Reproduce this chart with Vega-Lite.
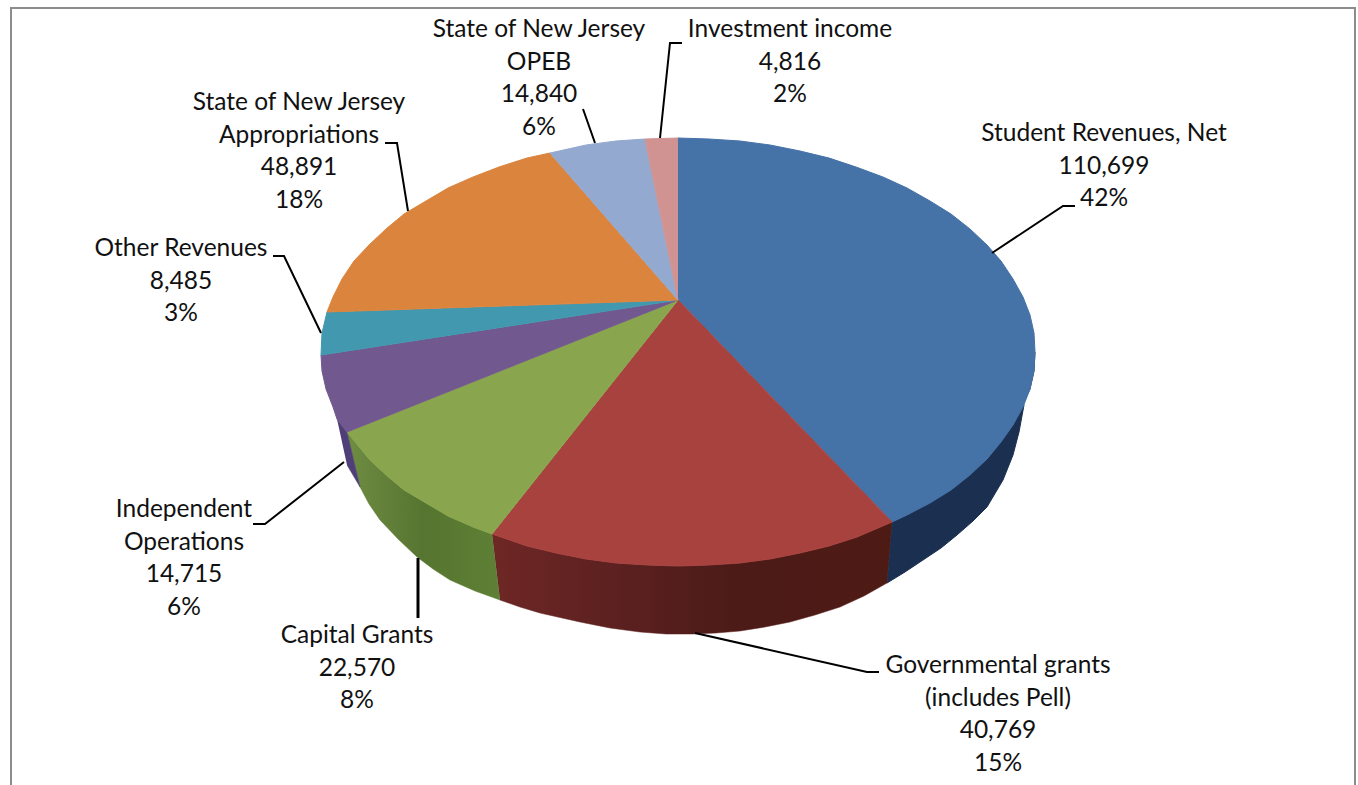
{"$schema":"https://vega.github.io/schema/vega-lite/v6.json","width":1358,"height":785,"padding":0,"autosize":{"type":"none"},"background":"white","config":{"view":{"stroke":null}},
"datasets":{
"tops":[
{"slice":"Student Revenues, Net","i":0,"x":678,"y":300},{"slice":"Student Revenues, Net","i":1,"x":678,"y":138},{"slice":"Student Revenues, Net","i":2,"x":709,"y":139},{"slice":"Student Revenues, Net","i":3,"x":740,"y":141},{"slice":"Student Revenues, Net","i":4,"x":770,"y":145},{"slice":"Student Revenues, Net","i":5,"x":800,"y":151},{"slice":"Student Revenues, Net","i":6,"x":829,"y":158},{"slice":"Student Revenues, Net","i":7,"x":856,"y":167},{"slice":"Student Revenues, Net","i":8,"x":883,"y":177},{"slice":"Student Revenues, Net","i":9,"x":907,"y":188},{"slice":"Student Revenues, Net","i":10,"x":930,"y":201},{"slice":"Student Revenues, Net","i":11,"x":951,"y":214},{"slice":"Student Revenues, Net","i":12,"x":970,"y":229},{"slice":"Student Revenues, Net","i":13,"x":987,"y":245},{"slice":"Student Revenues, Net","i":14,"x":1001,"y":261},{"slice":"Student Revenues, Net","i":15,"x":1013,"y":279},{"slice":"Student Revenues, Net","i":16,"x":1023,"y":297},{"slice":"Student Revenues, Net","i":17,"x":1030,"y":315},{"slice":"Student Revenues, Net","i":18,"x":1034,"y":333},{"slice":"Student Revenues, Net","i":19,"x":1035,"y":352},{"slice":"Student Revenues, Net","i":20,"x":1034,"y":371},{"slice":"Student Revenues, Net","i":21,"x":1030,"y":389},{"slice":"Student Revenues, Net","i":22,"x":1023,"y":407},{"slice":"Student Revenues, Net","i":23,"x":1013,"y":425},{"slice":"Student Revenues, Net","i":24,"x":1001,"y":442},{"slice":"Student Revenues, Net","i":25,"x":987,"y":459},{"slice":"Student Revenues, Net","i":26,"x":970,"y":475},{"slice":"Student Revenues, Net","i":27,"x":951,"y":490},{"slice":"Student Revenues, Net","i":28,"x":930,"y":503},{"slice":"Student Revenues, Net","i":29,"x":907,"y":515},{"slice":"Student Revenues, Net","i":30,"x":892,"y":522},
{"slice":"Governmental grants","i":0,"x":678,"y":300},{"slice":"Governmental grants","i":1,"x":892,"y":522},{"slice":"Governmental grants","i":2,"x":857,"y":537},{"slice":"Governmental grants","i":3,"x":829,"y":546},{"slice":"Governmental grants","i":4,"x":800,"y":553},{"slice":"Governmental grants","i":5,"x":770,"y":559},{"slice":"Governmental grants","i":6,"x":740,"y":563},{"slice":"Governmental grants","i":7,"x":709,"y":565},{"slice":"Governmental grants","i":8,"x":678,"y":566},{"slice":"Governmental grants","i":9,"x":647,"y":565},{"slice":"Governmental grants","i":10,"x":616,"y":563},{"slice":"Governmental grants","i":11,"x":586,"y":559},{"slice":"Governmental grants","i":12,"x":556,"y":553},{"slice":"Governmental grants","i":13,"x":527,"y":546},{"slice":"Governmental grants","i":14,"x":492,"y":534},
{"slice":"Capital Grants","i":0,"x":678,"y":300},{"slice":"Capital Grants","i":1,"x":492,"y":534},{"slice":"Capital Grants","i":2,"x":473,"y":527},{"slice":"Capital Grants","i":3,"x":448,"y":516},{"slice":"Capital Grants","i":4,"x":426,"y":503},{"slice":"Capital Grants","i":5,"x":404,"y":490},{"slice":"Capital Grants","i":6,"x":386,"y":475},{"slice":"Capital Grants","i":7,"x":369,"y":459},{"slice":"Capital Grants","i":8,"x":347,"y":432},
{"slice":"Independent Operations","i":0,"x":678,"y":300},{"slice":"Independent Operations","i":1,"x":347,"y":432},{"slice":"Independent Operations","i":2,"x":337,"y":419},{"slice":"Independent Operations","i":3,"x":333,"y":407},{"slice":"Independent Operations","i":4,"x":326,"y":389},{"slice":"Independent Operations","i":5,"x":322,"y":371},{"slice":"Independent Operations","i":6,"x":321,"y":355},
{"slice":"Other Revenues","i":0,"x":678,"y":300},{"slice":"Other Revenues","i":1,"x":321,"y":355},{"slice":"Other Revenues","i":2,"x":322,"y":333},{"slice":"Other Revenues","i":3,"x":327,"y":312},
{"slice":"State of New Jersey Appropriations","i":0,"x":678,"y":300},{"slice":"State of New Jersey Appropriations","i":1,"x":327,"y":312},{"slice":"State of New Jersey Appropriations","i":2,"x":333,"y":297},{"slice":"State of New Jersey Appropriations","i":3,"x":342,"y":279},{"slice":"State of New Jersey Appropriations","i":4,"x":354,"y":261},{"slice":"State of New Jersey Appropriations","i":5,"x":369,"y":245},{"slice":"State of New Jersey Appropriations","i":6,"x":386,"y":229},{"slice":"State of New Jersey Appropriations","i":7,"x":404,"y":214},{"slice":"State of New Jersey Appropriations","i":8,"x":426,"y":201},{"slice":"State of New Jersey Appropriations","i":9,"x":448,"y":188},{"slice":"State of New Jersey Appropriations","i":10,"x":473,"y":177},{"slice":"State of New Jersey Appropriations","i":11,"x":499,"y":167},{"slice":"State of New Jersey Appropriations","i":12,"x":527,"y":158},{"slice":"State of New Jersey Appropriations","i":13,"x":550,"y":153},
{"slice":"State of New Jersey OPEB","i":0,"x":678,"y":300},{"slice":"State of New Jersey OPEB","i":1,"x":550,"y":153},{"slice":"State of New Jersey OPEB","i":2,"x":586,"y":145},{"slice":"State of New Jersey OPEB","i":3,"x":616,"y":141},{"slice":"State of New Jersey OPEB","i":4,"x":645,"y":139},
{"slice":"Investment income","i":0,"x":678,"y":300},{"slice":"Investment income","i":1,"x":645,"y":139},{"slice":"Investment income","i":2,"x":678,"y":138}
],
"walls":[
{"slice":"Student Revenues, Net","i":0,"x":1035,"y":352},{"slice":"Student Revenues, Net","i":1,"x":1034,"y":371},{"slice":"Student Revenues, Net","i":2,"x":1030,"y":389},{"slice":"Student Revenues, Net","i":3,"x":1013,"y":425},{"slice":"Student Revenues, Net","i":4,"x":987,"y":459},{"slice":"Student Revenues, Net","i":5,"x":951,"y":490},{"slice":"Student Revenues, Net","i":6,"x":907,"y":515},{"slice":"Student Revenues, Net","i":7,"x":892,"y":522},{"slice":"Student Revenues, Net","i":8,"x":887,"y":583},{"slice":"Student Revenues, Net","i":9,"x":905,"y":572},{"slice":"Student Revenues, Net","i":10,"x":923,"y":560},{"slice":"Student Revenues, Net","i":11,"x":941,"y":548},{"slice":"Student Revenues, Net","i":12,"x":957,"y":535},{"slice":"Student Revenues, Net","i":13,"x":973,"y":521},{"slice":"Student Revenues, Net","i":14,"x":987,"y":507},{"slice":"Student Revenues, Net","i":15,"x":1003,"y":480},{"slice":"Student Revenues, Net","i":16,"x":1013,"y":455},{"slice":"Student Revenues, Net","i":17,"x":1019,"y":432},{"slice":"Student Revenues, Net","i":18,"x":1024,"y":405},
{"slice":"Governmental grants","i":0,"x":892,"y":522},{"slice":"Governmental grants","i":1,"x":857,"y":537},{"slice":"Governmental grants","i":2,"x":829,"y":546},{"slice":"Governmental grants","i":3,"x":800,"y":553},{"slice":"Governmental grants","i":4,"x":770,"y":559},{"slice":"Governmental grants","i":5,"x":740,"y":563},{"slice":"Governmental grants","i":6,"x":709,"y":565},{"slice":"Governmental grants","i":7,"x":678,"y":566},{"slice":"Governmental grants","i":8,"x":647,"y":565},{"slice":"Governmental grants","i":9,"x":616,"y":563},{"slice":"Governmental grants","i":10,"x":586,"y":559},{"slice":"Governmental grants","i":11,"x":556,"y":553},{"slice":"Governmental grants","i":12,"x":527,"y":546},{"slice":"Governmental grants","i":13,"x":492,"y":534},{"slice":"Governmental grants","i":14,"x":500,"y":600},{"slice":"Governmental grants","i":15,"x":520,"y":607},{"slice":"Governmental grants","i":16,"x":540,"y":613},{"slice":"Governmental grants","i":17,"x":580,"y":622},{"slice":"Governmental grants","i":18,"x":610,"y":628},{"slice":"Governmental grants","i":19,"x":640,"y":632},{"slice":"Governmental grants","i":20,"x":666,"y":634},{"slice":"Governmental grants","i":21,"x":693,"y":634},{"slice":"Governmental grants","i":22,"x":716,"y":633},{"slice":"Governmental grants","i":23,"x":740,"y":631},{"slice":"Governmental grants","i":24,"x":765,"y":627},{"slice":"Governmental grants","i":25,"x":790,"y":622},{"slice":"Governmental grants","i":26,"x":815,"y":615},{"slice":"Governmental grants","i":27,"x":840,"y":607},{"slice":"Governmental grants","i":28,"x":864,"y":596},{"slice":"Governmental grants","i":29,"x":887,"y":583},
{"slice":"Capital Grants","i":0,"x":492,"y":534},{"slice":"Capital Grants","i":1,"x":473,"y":527},{"slice":"Capital Grants","i":2,"x":448,"y":516},{"slice":"Capital Grants","i":3,"x":426,"y":503},{"slice":"Capital Grants","i":4,"x":404,"y":490},{"slice":"Capital Grants","i":5,"x":386,"y":475},{"slice":"Capital Grants","i":6,"x":369,"y":459},{"slice":"Capital Grants","i":7,"x":347,"y":432},{"slice":"Capital Grants","i":8,"x":360,"y":487},{"slice":"Capital Grants","i":9,"x":369,"y":504},{"slice":"Capital Grants","i":10,"x":380,"y":520},{"slice":"Capital Grants","i":11,"x":398,"y":539},{"slice":"Capital Grants","i":12,"x":417,"y":557},{"slice":"Capital Grants","i":13,"x":433,"y":569},{"slice":"Capital Grants","i":14,"x":450,"y":580},{"slice":"Capital Grants","i":15,"x":475,"y":591},{"slice":"Capital Grants","i":16,"x":500,"y":600},
{"slice":"Independent Operations","i":0,"x":337,"y":419},{"slice":"Independent Operations","i":1,"x":347,"y":432},{"slice":"Independent Operations","i":2,"x":360,"y":487},{"slice":"Independent Operations","i":3,"x":347,"y":465}
],
"leaders":[
{"slice":"Student Revenues, Net","i":0,"x":1075,"y":206},{"slice":"Student Revenues, Net","i":1,"x":1063,"y":206},{"slice":"Student Revenues, Net","i":2,"x":992,"y":253},
{"slice":"Governmental grants","i":0,"x":879,"y":672},{"slice":"Governmental grants","i":1,"x":867,"y":672},{"slice":"Governmental grants","i":2,"x":695,"y":633},
{"slice":"Capital Grants","i":0,"x":418,"y":558},{"slice":"Capital Grants","i":1,"x":418,"y":618},
{"slice":"Independent Operations","i":0,"x":253,"y":524},{"slice":"Independent Operations","i":1,"x":265,"y":524},{"slice":"Independent Operations","i":2,"x":344,"y":462},
{"slice":"Other Revenues","i":0,"x":273,"y":256},{"slice":"Other Revenues","i":1,"x":284,"y":256},{"slice":"Other Revenues","i":2,"x":321,"y":333},
{"slice":"State of New Jersey Appropriations","i":0,"x":385,"y":143},{"slice":"State of New Jersey Appropriations","i":1,"x":397,"y":143},{"slice":"State of New Jersey Appropriations","i":2,"x":408,"y":211},
{"slice":"State of New Jersey OPEB","i":0,"x":583,"y":109},{"slice":"State of New Jersey OPEB","i":1,"x":595,"y":143},
{"slice":"Investment income","i":0,"x":682,"y":43},{"slice":"Investment income","i":1,"x":670,"y":43},{"slice":"Investment income","i":2,"x":660,"y":138}
],
"frame":[{"i":0,"x":11,"y":785},{"i":1,"x":11,"y":8},{"i":2,"x":1355,"y":8},{"i":3,"x":1355,"y":785}],
"labels":[
{"text":"Student Revenues, Net\n110,699\n42%","x":1104,"y":122},
{"text":"Governmental grants\n(includes Pell)\n40,769\n15%","x":998,"y":654},
{"text":"Capital Grants\n22,570\n8%","x":357,"y":624},
{"text":"Independent\nOperations\n14,715\n6%","x":184,"y":498},
{"text":"Other Revenues\n8,485\n3%","x":181,"y":237},
{"text":"State of New Jersey\nAppropriations\n48,891\n18%","x":299,"y":91},
{"text":"State of New Jersey\nOPEB\n14,840\n6%","x":539,"y":18},
{"text":"Investment income\n4,816\n2%","x":790,"y":18}
]},
"encoding":{
"x":{"field":"x","type":"quantitative","axis":null,"scale":{"domain":[0,1358],"nice":false,"zero":false}},
"y":{"field":"y","type":"quantitative","axis":null,"scale":{"domain":[0,785],"reverse":true,"nice":false,"zero":false}}},
"layer":[
{"data":{"name":"frame"},"mark":{"type":"line","stroke":"#8c8c8c","strokeWidth":2,"clip":true},"encoding":{"order":{"field":"i","type":"quantitative"}}},
{"data":{"name":"walls"},"transform":[{"filter":"datum.slice==='Student Revenues, Net'"}],"mark":{"type":"line","fill":"#1b3050","stroke":"#1b3050","strokeWidth":1},"encoding":{"order":{"field":"i","type":"quantitative"}}},
{"data":{"name":"walls"},"transform":[{"filter":"datum.slice==='Governmental grants'"}],"mark":{"type":"line","fill":{"gradient":"linear","x1":0,"x2":1,"y1":0,"y2":0,"stops":[{"offset":0,"color":"#6e2725"},{"offset":0.3,"color":"#5c2120"},{"offset":0.6,"color":"#4c1b18"},{"offset":1,"color":"#4e1a14"}]},"stroke":"#5a1f1d","strokeWidth":0.5},"encoding":{"order":{"field":"i","type":"quantitative"}}},
{"data":{"name":"walls"},"transform":[{"filter":"datum.slice==='Capital Grants'"}],"mark":{"type":"line","fill":{"gradient":"linear","x1":0,"x2":1,"y1":0,"y2":0,"stops":[{"offset":0,"color":"#6f8c42"},{"offset":0.5,"color":"#567530"},{"offset":1,"color":"#5e8035"}]},"stroke":"#5f7e36","strokeWidth":0.5},"encoding":{"order":{"field":"i","type":"quantitative"}}},
{"data":{"name":"walls"},"transform":[{"filter":"datum.slice==='Independent Operations'"}],"mark":{"type":"line","fill":"#4f3f78","stroke":"#4f3f78","strokeWidth":0.5},"encoding":{"order":{"field":"i","type":"quantitative"}}},
{"data":{"name":"tops"},"mark":{"type":"line","filled":true,"strokeWidth":1},"encoding":{"order":{"field":"i","type":"quantitative"},
"fill":{"field":"slice","type":"nominal","legend":null,"scale":{"domain":["Student Revenues, Net","Governmental grants","Capital Grants","Independent Operations","Other Revenues","State of New Jersey Appropriations","State of New Jersey OPEB","Investment income"],"range":["#4572a7","#a8423f","#89a54e","#71588f","#4198af","#db843d","#93a9cf","#d19392"]}},
"stroke":{"field":"slice","type":"nominal","legend":null,"scale":{"domain":["Student Revenues, Net","Governmental grants","Capital Grants","Independent Operations","Other Revenues","State of New Jersey Appropriations","State of New Jersey OPEB","Investment income"],"range":["#4572a7","#a8423f","#89a54e","#71588f","#4198af","#db843d","#93a9cf","#d19392"]}}}},
{"data":{"name":"leaders"},"transform":[{"filter":"datum.slice!=='Capital Grants'"}],"mark":{"type":"line","stroke":"#000000","strokeWidth":2},"encoding":{"detail":{"field":"slice"},"order":{"field":"i","type":"quantitative"}}},
{"data":{"name":"leaders"},"transform":[{"filter":"datum.slice==='Capital Grants'"}],"mark":{"type":"line","stroke":"#000000","strokeWidth":3},"encoding":{"order":{"field":"i","type":"quantitative"}}},
{"data":{"name":"labels"},"mark":{"type":"text","font":"Lato","fontSize":24.5,"color":"#111111","align":"center","baseline":"top","lineBreak":"\n","lineHeight":32.5},"encoding":{"text":{"field":"text"}}}
]}
